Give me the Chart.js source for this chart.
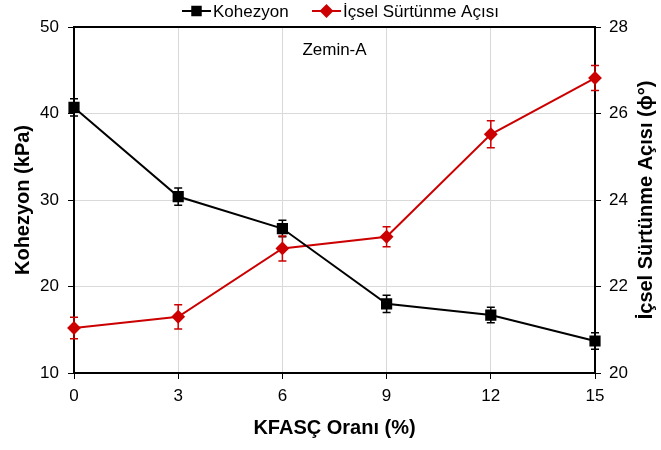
<!DOCTYPE html>
<html>
<head>
<meta charset="utf-8">
<script src="https://cdn.jsdelivr.net/npm/chart.js@4/dist/chart.umd.min.js"></script>
<style>
  html, body { margin: 0; padding: 0; background: #fff; }
  #wrap { width: 661px; height: 450px; }
</style>
</head>
<body>
<div id="wrap"><canvas id="chart" width="661" height="450"></canvas></div>
<script>
const oranlar = [0, 3, 6, 9, 12, 15];
const kohezyon = [40.7, 30.4, 26.7, 18.0, 16.7, 13.7];
const kohezyonHata = [1.0, 1.0, 0.95, 1.0, 0.9, 0.95];
const surtunme = [21.04, 21.3, 22.88, 23.15, 25.52, 26.82];
const surtunmeHata = [0.25, 0.28, 0.29, 0.23, 0.31, 0.29];
const xTicks = [0, 3, 6, 9, 12, 15];

const FONT = "'Liberation Sans', Arial, sans-serif";
const RED = '#cc0000';

function points(ys) {
  return oranlar.map((x, i) => ({ x: x, y: ys[i] }));
}

// error bars
const errorBars = {
  id: 'errorBars',
  afterDatasetsDraw(chart) {
    const ctx = chart.ctx;
    const xs = chart.scales.x;
    const sets = [
      { scale: chart.scales.y, vals: kohezyon, err: kohezyonHata, color: '#000' },
      { scale: chart.scales.y2, vals: surtunme, err: surtunmeHata, color: RED }
    ];
    ctx.save();
    ctx.lineWidth = 1.5;
    sets.forEach(s => {
      ctx.strokeStyle = s.color;
      s.vals.forEach((v, i) => {
        const px = xs.getPixelForValue(oranlar[i]);
        const top = s.scale.getPixelForValue(v + s.err[i]);
        const bot = s.scale.getPixelForValue(v - s.err[i]);
        ctx.beginPath();
        ctx.moveTo(px, top); ctx.lineTo(px, bot);
        ctx.moveTo(px - 4, top); ctx.lineTo(px + 4, top);
        ctx.moveTo(px - 4, bot); ctx.lineTo(px + 4, bot);
        ctx.stroke();
      });
    });
    ctx.restore();
  }
};

// top frame line, right title, note and legend
const extras = {
  id: 'extras',
  afterDraw(chart) {
    const ctx = chart.ctx;
    const a = chart.chartArea;
    ctx.save();
    ctx.strokeStyle = '#000';
    ctx.lineWidth = 2;
    ctx.beginPath();
    ctx.moveTo(a.left - 1, a.top);
    ctx.lineTo(a.right + 1, a.top);
    ctx.stroke();

    ctx.fillStyle = '#000';
    ctx.font = 'bold 20px ' + FONT;
    ctx.textAlign = 'center';
    ctx.textBaseline = 'middle';
    ctx.translate(646, (a.top + a.bottom) / 2);
    ctx.rotate(-Math.PI / 2);
    ctx.fillText('İçsel Sürtünme Açısı (ϕ°)', 0, 0);
    ctx.restore();

    ctx.save();
    ctx.fillStyle = '#000';
    ctx.font = '17px ' + FONT;
    ctx.textAlign = 'center';
    ctx.textBaseline = 'middle';
    ctx.fillText('Zemin-A', chart.scales.x.getPixelForValue(7.5), chart.scales.y.getPixelForValue(47.3));

    // legend
    const items = [
      { x: 182, text: 'Kohezyon', color: '#000', style: 'rect', r: 6 },
      { x: 312, text: 'İçsel Sürtünme Açısı', color: RED, style: 'rectRot', r: 5.5 }
    ];
    const ly = 11;
    ctx.textAlign = 'left';
    items.forEach(it => {
      ctx.strokeStyle = it.color;
      ctx.fillStyle = it.color;
      ctx.lineWidth = 2;
      ctx.beginPath();
      ctx.moveTo(it.x, ly);
      ctx.lineTo(it.x + 29, ly);
      ctx.stroke();
      Chart.helpers.drawPoint(ctx, { pointStyle: it.style, radius: it.r, borderWidth: 1 }, it.x + 14.5, ly);
      ctx.fillStyle = '#000';
      ctx.fillText(it.text, it.x + 31, ly + 1);
    });
    ctx.restore();
  }
};

document.addEventListener('DOMContentLoaded', () => {
  const ctx = document.getElementById('chart').getContext('2d');

  new Chart(ctx, {
    type: 'line',
    data: {
      datasets: [{
        label: 'Kohezyon',
        data: points(kohezyon),
        yAxisID: 'y',
        borderColor: '#000',
        backgroundColor: '#000',
        borderWidth: 2,
        pointStyle: 'rect',
        pointRadius: 6.5,
        pointHoverRadius: 6.5,
        clip: false,
        tension: 0
      }, {
        label: 'İçsel Sürtünme Açısı',
        data: points(surtunme),
        yAxisID: 'y2',
        borderColor: RED,
        backgroundColor: RED,
        borderWidth: 2,
        pointStyle: 'rectRot',
        pointRadius: 5.5,
        pointHoverRadius: 5.5,
        clip: false,
        tension: 0
      }]
    },
    plugins: [errorBars, extras],
    options: {
      responsive: false,
      animation: false,
      layout: { padding: { top: 27, left: 0, right: 0, bottom: 0 } },
      plugins: {
        legend: { display: false },
        tooltip: { enabled: false }
      },
      scales: {
        x: {
          type: 'linear',
          min: 0,
          max: 15,
          afterFit: s => { s.height = 77; },
          afterBuildTicks: s => { s.ticks = xTicks.map(v => ({ value: v })); },
          ticks: { color: '#000', font: { size: 17, family: FONT }, padding: 7 },
          grid: { color: '#d9d9d9', tickColor: '#000', tickLength: 6 },
          border: { color: '#000', width: 2 },
          title: {
            display: true,
            text: 'KFASÇ Oranı (%)',
            color: '#000',
            font: { size: 20, weight: 'bold', family: FONT },
            padding: { top: 0, bottom: 10 }
          }
        },
        y: {
          position: 'left',
          min: 10,
          max: 50,
          afterFit: s => { s.width = 74; },
          ticks: { stepSize: 10, color: '#000', font: { size: 17, family: FONT }, padding: 9 },
          grid: { color: '#d9d9d9', tickColor: '#000', tickLength: 6 },
          border: { color: '#000', width: 2 },
          title: {
            display: true,
            text: 'Kohezyon (kPa)',
            color: '#000',
            font: { size: 20, weight: 'bold', family: FONT },
            padding: { top: 11, bottom: 0 }
          }
        },
        y2: {
          position: 'right',
          min: 20,
          max: 28,
          afterFit: s => { s.width = 66; },
          ticks: { stepSize: 2, color: '#000', font: { size: 17, family: FONT }, padding: 8 },
          grid: { drawOnChartArea: false, tickColor: '#000', tickLength: 6 },
          border: { color: '#000', width: 2 }
        }
      }
    }
  });
});
</script>
</body>
</html>
